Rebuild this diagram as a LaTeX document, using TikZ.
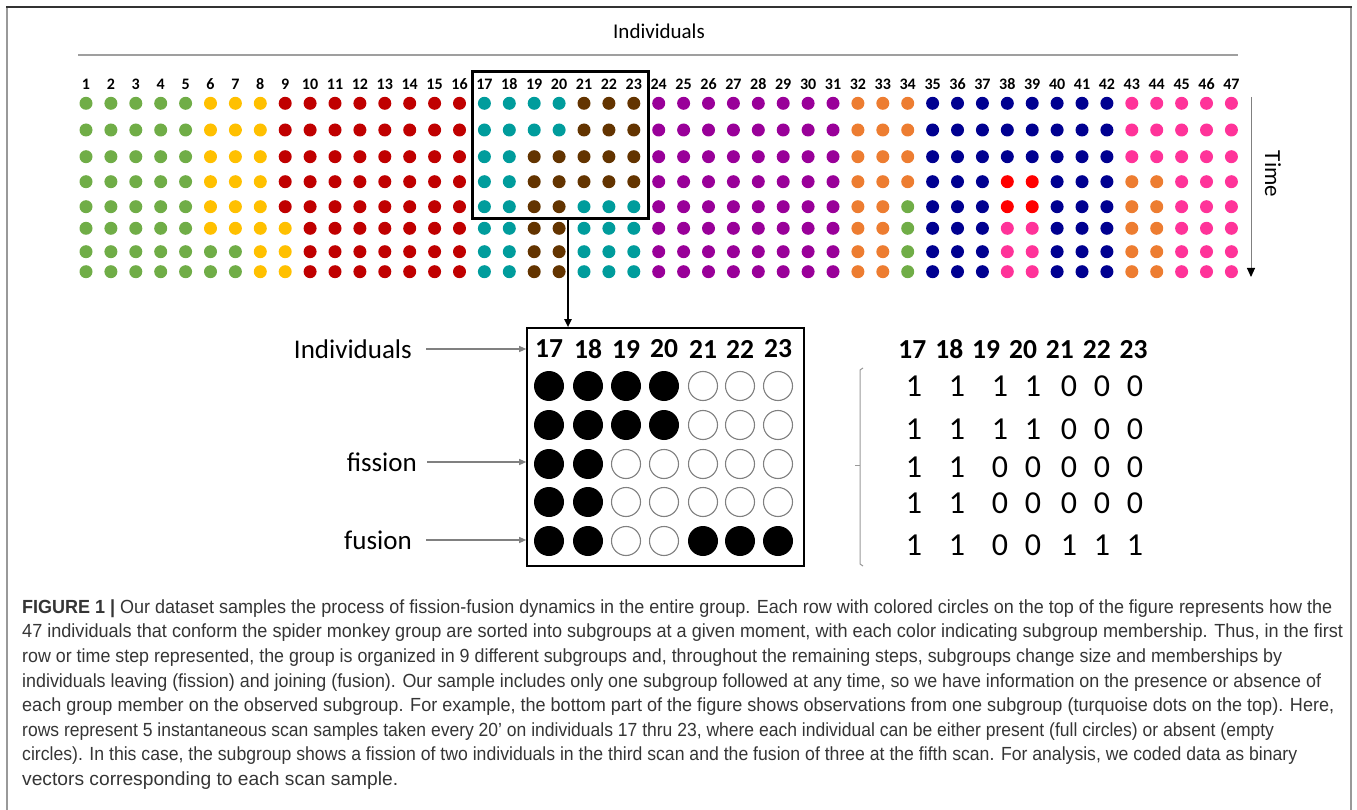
\documentclass[tikz,border=0pt]{standalone}
\usepackage{fontspec}
\setmainfont{Carlito}
\newfontfamily\capfont{Liberation Sans}
\usetikzlibrary{arrows.meta}

% subgroup colours
\definecolor{cG}{HTML}{70AD47}
\definecolor{cY}{HTML}{FFC000}
\definecolor{cR}{HTML}{C00000}
\definecolor{cT}{HTML}{009C9C}
\definecolor{cB}{HTML}{633400}
\definecolor{cP}{HTML}{990099}
\definecolor{cO}{HTML}{ED7D31}
\definecolor{cN}{HTML}{000090}
\definecolor{cK}{HTML}{FF3399}
\definecolor{cX}{HTML}{FF0000}
\definecolor{captext}{HTML}{353535}

\tikzset{
  dot/.style={circle, inner sep=0pt, minimum size=13pt, draw=none},
  colnum/.style={font=\fontsize{16}{16}\selectfont\bfseries, inner sep=0pt},
  bigdot/.style={circle, inner sep=0pt, minimum size=30pt, fill=black},
  emptydot/.style={circle, inner sep=0pt, minimum size=29pt, draw=gray, line width=1.1pt},
  bignum/.style={font=\fontsize{27.5}{27.5}\selectfont\bfseries, inner sep=0pt},
  bit/.style={font=\fontsize{32}{32}\selectfont, inner sep=0pt},
  sidelabel/.style={font=\fontsize{27}{27}\selectfont, inner sep=0pt, anchor=east},
  pointer/.style={draw=gray, line width=1.1pt, -{Triangle[length=7pt,width=6pt]}},
  capline/.style={anchor=base west, inner sep=0pt, text=captext}
}

% one time step of the colour grid: #1 row index, #2 y position, #3 colour codes
\newcommand\dotrow[3]{%
  \foreach \k [count=\c] in {#3} {%
    \node[dot, fill=c\k] (d#1-\c) at ({86+24.9*(\c-1)}, #2) {};
  }%
}
% one caption line fitted to a given width
\newcommand\capfit[2]{\resizebox{#1pt}{\height}{\capfont\fontsize{19}{19}\selectfont #2}}

\begin{document}
\begin{tikzpicture}[x=1pt, y=-1pt]
\useasboundingbox (0,0) rectangle (1357,810);

% frame
\draw[gray!80, line width=1.2pt] (7,810) -- (7,7) (1351,7) -- (1351,810);
\draw[black!80, line width=1.6pt] (6,7) -- (1352,7);

% header
\node[font=\fontsize{21}{21}\selectfont, inner sep=0pt] (indtop) at (659,31) {Individuals};
\draw[gray!75, line width=2.4pt] (78,55) -- (1238,55);

\foreach \c in {1,...,47} {
  \node[colnum] (n\c) at ({86+24.9*(\c-1)}, 84) {\c};
}

\dotrow{1}{103.3}{G,G,G,G,G,Y,Y,Y,R,R,R,R,R,R,R,R,T,T,T,T,B,B,B,P,P,P,P,P,P,P,P,O,O,O,N,N,N,N,N,N,N,N,K,K,K,K,K}
\dotrow{2}{130}{G,G,G,G,G,Y,Y,Y,R,R,R,R,R,R,R,R,T,T,T,T,B,B,B,P,P,P,P,P,P,P,P,O,O,O,N,N,N,N,N,N,N,N,K,K,K,K,K}
\dotrow{3}{156.7}{G,G,G,G,G,Y,Y,Y,R,R,R,R,R,R,R,R,T,T,B,B,B,B,B,P,P,P,P,P,P,P,P,O,O,O,N,N,N,N,N,N,N,N,K,K,K,K,K}
\dotrow{4}{181.7}{G,G,G,G,G,Y,Y,Y,R,R,R,R,R,R,R,R,T,T,B,B,B,B,B,P,P,P,P,P,P,P,P,O,O,O,N,N,N,X,X,N,N,N,O,O,K,K,K}
\dotrow{5}{206.7}{G,G,G,G,G,Y,Y,Y,R,R,R,R,R,R,R,R,T,T,B,B,T,T,T,P,P,P,P,P,P,P,P,O,O,G,N,N,N,X,X,N,N,N,O,O,K,K,K}
\dotrow{6}{228.3}{G,G,G,G,G,Y,Y,Y,Y,R,R,R,R,R,R,R,T,T,B,B,T,T,T,P,P,P,P,P,P,P,P,O,O,G,N,N,N,K,K,N,N,N,O,O,K,K,K}
\dotrow{7}{251.7}{G,G,G,G,G,G,G,Y,Y,R,R,R,R,R,R,R,T,T,B,B,T,T,T,P,P,P,P,P,P,P,P,O,O,G,N,N,N,K,K,N,N,N,O,O,K,K,K}
\dotrow{8}{271.7}{G,G,G,G,G,G,G,Y,Y,R,R,R,R,R,R,R,T,T,B,B,T,T,T,P,P,P,P,P,P,P,P,O,O,G,N,N,N,K,K,N,N,N,O,O,K,K,K}

% time axis
\coordinate (tstart) at (1251,97);
\coordinate (tend) at (1251,277);
\draw[gray, line width=1pt, -{Triangle[length=9pt,width=8pt,color=black]}] (tstart) -- (tend);
\node[font=\fontsize{23}{23}\selectfont, rotate=-90, inner sep=0pt] (time) at (1273,174) {Time};

% selected subgroup
\node[draw=black, line width=3pt, minimum width=176pt, minimum height=147pt, inner sep=0pt] (sel) at (560.3,145.4) {};

% enlarged view of the selected subgroup
\node[draw=black, line width=1.6pt, minimum width=277pt, minimum height=238pt, inner sep=0pt] (zoom) at (665.5,447) {};
\coordinate (dropx) at (568,0);
\draw[black, line width=1.8pt, -{Triangle[length=8pt,width=7pt]}] (sel.south -| dropx) -- (zoom.north -| dropx);

\foreach \c/\x in {17/549, 18/588, 19/626, 20/664, 21/703, 22/740, 23/778} {
  \node[bignum] (z\c) at (\x,349) {\c};
}

% presence (1) / absence (0) per scan
\foreach \r/\y/\bits in {1/386/{1,1,1,1,0,0,0}, 2/425/{1,1,1,1,0,0,0}, 3/464/{1,1,0,0,0,0,0}, 4/502/{1,1,0,0,0,0,0}, 5/541/{1,1,0,0,1,1,1}} {
  \foreach \b [count=\i] in \bits {
    \pgfmathsetmacro\xx{{549,588,626,664,703,740,778}[\i-1]}
    \ifnum\b=1
      \node[bigdot] (s\r-\i) at (\xx,\y) {};
    \else
      \node[emptydot] (s\r-\i) at (\xx,\y) {};
    \fi
  }
}

% side labels
\node[sidelabel] (lind) at (412,349) {Individuals};
\node[sidelabel] (lfis) at (417,462) {fission};
\node[sidelabel] (lfus) at (412,540) {fusion};
\draw[pointer] ([xshift=14pt]lind.east) -- (lind.east -| zoom.west);
\draw[pointer] ([xshift=10pt]lfis.east) -- (lfis.east -| zoom.west);
\draw[pointer] ([xshift=14pt]lfus.east) -- (lfus.east -| zoom.west);

% binary vectors
\node[bignum] (bhead) at (1023,349) {17\hspace{9pt}18\hspace{9pt}19\hspace{9pt}20\hspace{9pt}21\hspace{9pt}22\hspace{9pt}23};
\foreach \r/\y/\bits in {1/386/{1,1,1,1,0,0,0}, 2/429/{1,1,1,1,0,0,0}, 3/467/{1,1,0,0,0,0,0}, 4/503/{1,1,0,0,0,0,0}, 5/545/{1,1,0,0,1,1,1}} {
  \foreach \b [count=\i] in \bits {
    \pgfmathsetmacro\xx{{914,957,1000,1033,1069,1102,1135}[\i-1]}
    \node[bit] (v\r-\i) at (\xx,\y) {\b};
  }
}
\draw[gray!80, line width=1pt] (863,368) -- (860,370) -- (860,564) -- (863,566);
\draw[gray!80, line width=1pt] (855,465) -- (860,465);

% caption
\node[capline] (cap1) at (22,613) {\capfit{1310}{\textbf{FIGURE 1 |} Our dataset samples the process of fission-fusion dynamics in the entire group. Each row with colored circles on the top of the figure represents how the}};
\node[capline] (cap2) at (22,637) {\capfit{1321}{47 individuals that conform the spider monkey group are sorted into subgroups at a given moment, with each color indicating subgroup membership. Thus, in the first}};
\node[capline] (cap3) at (22,662) {\capfit{1260}{row or time step represented, the group is organized in 9 different subgroups and, throughout the remaining steps, subgroups change size and memberships by}};
\node[capline] (cap4) at (22,687) {\capfit{1299}{individuals leaving (fission) and joining (fusion). Our sample includes only one subgroup followed at any time, so we have information on the presence or absence of}};
\node[capline] (cap5) at (22,711) {\capfit{1312}{each group member on the observed subgroup. For example, the bottom part of the figure shows observations from one subgroup (turquoise dots on the top). Here,}};
\node[capline] (cap6) at (22,736) {\capfit{1252}{rows represent 5 instantaneous scan samples taken every 20’ on individuals 17 thru 23, where each individual can be either present (full circles) or absent (empty}};
\node[capline] (cap7) at (22,760) {\capfit{1275}{circles). In this case, the subgroup shows a fission of two individuals in the third scan and the fusion of three at the fifth scan. For analysis, we coded data as binary}};
\node[capline] (cap8) at (22,785) {\capfit{376}{vectors corresponding to each scan sample.}};
\end{tikzpicture}
\end{document}
